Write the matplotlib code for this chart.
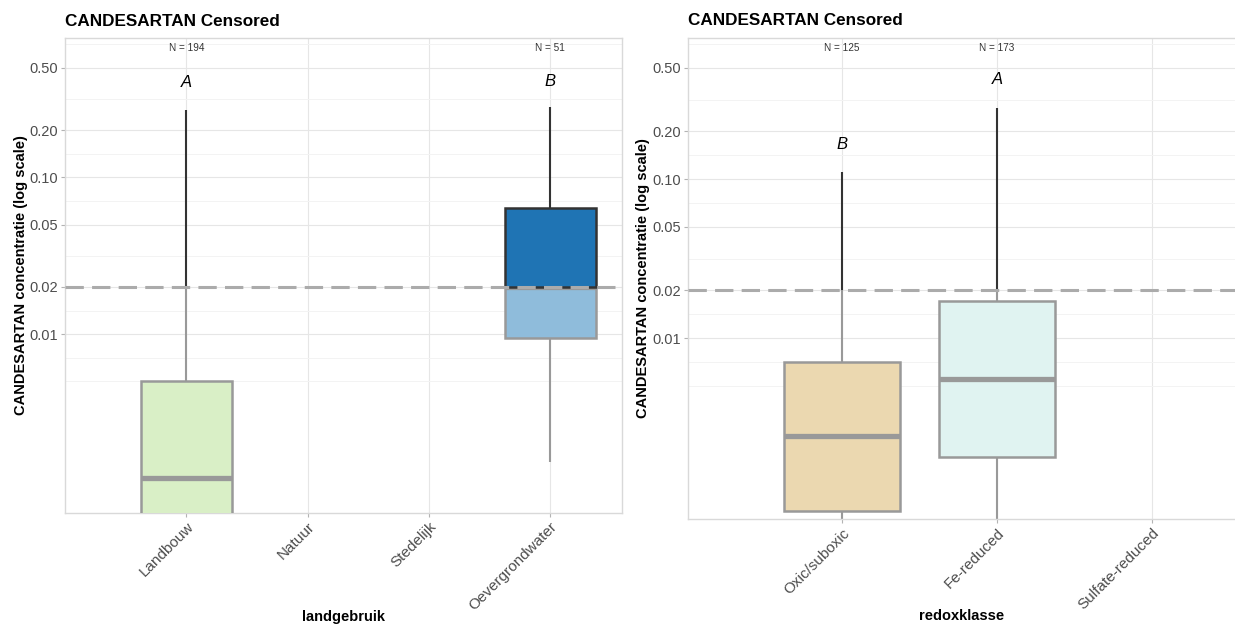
import numpy as np
import matplotlib
matplotlib.use("Agg")
import matplotlib.pyplot as plt
from matplotlib.patches import Rectangle
from matplotlib.ticker import FixedLocator, NullFormatter
import matplotlib.transforms as mtransforms

plt.rcParams['font.family'] = ['Liberation Sans', 'DejaVu Sans']

nan = np.nan

# ---------------- data ----------------
TITLE = "CANDESARTAN Censored"
YLABEL = "CANDESARTAN concentratie (log scale)"
LIMIT = 0.02  # censoring limit (dashed line)

y_ticks = [0.01, 0.02, 0.05, 0.10, 0.20, 0.50]
y_tick_labels = ["0.01", "0.02", "0.05", "0.10", "0.20", "0.50"]
y_minor = [0.005, 0.00707, 0.01414, 0.0316, 0.0707, 0.1414, 0.316, 0.707]
y_range = [0.00073, 0.77]

land_categories = ["Landbouw", "Natuur", "Stedelijk", "Oevergrondwater"]
land_whislo = [0.0002, nan, nan, 0.00154]
land_q1 = [0.0004, nan, nan, 0.0095]
land_median = [0.00122, nan, nan, 0.020]
land_q3 = [0.0050, nan, nan, 0.064]
land_whishi = [0.27, nan, nan, 0.28]
land_n = ["N = 194", "", "", "N = 51"]
land_letters = ["A", "", "", "B"]
land_letter_y = [0.40, nan, nan, 0.41]

redox_categories = ["Oxic/suboxic", "Fe-reduced", "Sulfate-reduced"]
redox_whislo = [0.0003, 0.0003, nan]
redox_q1 = [0.00082, 0.00179, nan]
redox_median = [0.00242, 0.00555, nan]
redox_q3 = [0.00705, 0.0171, nan]
redox_whishi = [0.11, 0.28, nan]
redox_n = ["N = 125", "N = 173", ""]
redox_letters = ["B", "A", ""]
redox_letter_y = [0.165, 0.42, nan]

# ---------------- styles ----------------
land_fill_low = ["#d9efc6", "#ffffff", "#ffffff", "#8fbcdb"]
land_fill_high = ["#74c476", "#ffffff", "#ffffff", "#1f74b4"]
redox_fill_low = ["#ebd8b0", "#e0f3f1", "#ffffff"]
redox_fill_high = ["#c8a060", "#80cdc1", "#ffffff"]

GRAY = "#999999"
DARK = "#333333"
TXT = "#4d4d4d"

W, H = 1235, 626
fig = plt.figure(figsize=(W / 100, H / 100), dpi=100)


def px_axes(l, t, r, b):
    return fig.add_axes([l / W, 1 - b / H, (r - l) / W, (b - t) / H])


def draw_panel(ax, cats, lo, q1, med, q3, hi, nlab, letters, letter_y,
               fill_low, fill_high, xlabel, xlim, nlab_y, xlab_y):
    x = np.arange(len(cats))
    w = 0.75
    ax.set_yscale("log")
    ax.set_xlim(*xlim)
    ax.set_ylim(*y_range)
    for i in range(len(cats)):
        if np.isnan(q3[i]):
            continue
        xi = x[i]
        # lower whisker
        ax.plot([xi, xi], [lo[i], q1[i]], color=GRAY, lw=1.5, zorder=2,
                solid_capstyle="butt")
        # upper whisker
        gray_top = min(hi[i], LIMIT)
        if q3[i] < gray_top:
            ax.plot([xi, xi], [q3[i], gray_top], color=GRAY, lw=1.5, zorder=2,
                    solid_capstyle="butt")
        if hi[i] > LIMIT:
            ax.plot([xi, xi], [max(q3[i], LIMIT), hi[i]], color=DARK, lw=1.5,
                    zorder=2, solid_capstyle="butt")
        # box part below limit
        if q1[i] < LIMIT:
            top = min(q3[i], LIMIT)
            ax.add_patch(Rectangle((xi - w / 2, q1[i]), w, top - q1[i],
                                   facecolor=fill_low[i], edgecolor=GRAY,
                                   lw=1.8, zorder=3))
        # median
        ax.plot([xi - w / 2, xi + w / 2], [med[i], med[i]], color=GRAY,
                lw=3.8, zorder=4, solid_capstyle="butt")
        # box part above limit
        if q3[i] > LIMIT:
            bot = max(q1[i], LIMIT)
            ax.add_patch(Rectangle((xi - w / 2, bot), w, q3[i] - bot,
                                   facecolor=fill_high[i], edgecolor=DARK,
                                   lw=1.8, zorder=5))
        # letters and N
        ax.text(xi, letter_y[i], letters[i], ha="center", va="center",
                fontsize=12, style="italic", color="black", zorder=7)
        trans = mtransforms.blended_transform_factory(ax.transData, ax.transAxes)
        ax.text(xi, nlab_y, nlab[i], ha="center", va="center", fontsize=7.2,
                color="#333333", transform=trans, zorder=7)

    ax.axhline(LIMIT, color="#ababab", lw=2.2, dashes=(6, 2.7), zorder=6)

    ax.set_xticks(x)
    ax.set_xticklabels(cats, rotation=45, ha="right", rotation_mode="anchor",
                       fontsize=11, color=TXT)
    ax.yaxis.set_major_locator(FixedLocator(y_ticks))
    ax.set_yticklabels(y_tick_labels, fontsize=10.5, color=TXT)
    ax.yaxis.set_minor_locator(FixedLocator(y_minor))
    ax.yaxis.set_minor_formatter(NullFormatter())
    ax.tick_params(which="major", color="#b3b3b3", length=3, width=0.8, pad=2)
    ax.tick_params(which="minor", length=0)
    ax.grid(which="major", color="#e6e6e6", lw=0.8)
    ax.grid(which="minor", axis="y", color="#f3f3f3", lw=0.7)
    ax.set_axisbelow(True)
    for s in ax.spines.values():
        s.set_color("#d9d9d9")
        s.set_linewidth(1.0)

    ax.set_title(TITLE, loc="left", fontsize=12.3, fontweight="bold", pad=9)
    ax.set_ylabel(YLABEL, fontsize=10.5, fontweight="bold")
    ax.set_xlabel(xlabel, fontsize=10.5, fontweight="bold")
    ax.xaxis.set_label_coords(0.5, xlab_y)


ax1 = px_axes(65, 38.3, 621.7, 512.5)
draw_panel(ax1, land_categories, land_whislo, land_q1, land_median, land_q3,
           land_whishi, land_n, land_letters, land_letter_y,
           land_fill_low, land_fill_high, "landgebruik", (-1.0, 3.59),
           0.979, -0.205)
ax1.yaxis.set_label_coords(-0.067, 0.5)

ax2 = px_axes(687.7, 38.0, 1235, 519)
draw_panel(ax2, redox_categories, redox_whislo, redox_q1, redox_median,
           redox_q3, redox_whishi, redox_n, redox_letters, redox_letter_y,
           redox_fill_low, redox_fill_high, "redoxklasse", (-0.995, 2.535),
           0.979, -0.188)
ax2.spines["right"].set_visible(False)
ax2.yaxis.set_label_coords(-0.068, 0.5)

fig.savefig("out.png", dpi=100)
